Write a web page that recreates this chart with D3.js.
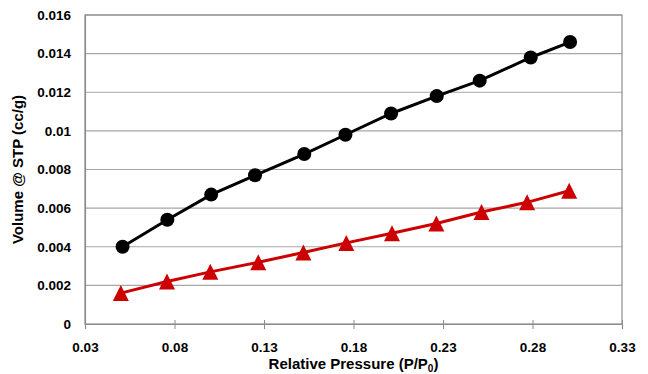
<!DOCTYPE html>
<html>
<head>
<meta charset="utf-8">
<script src="https://d3js.org/d3.v7.min.js"></script>
<style>
body { margin: 0; background: #fff; }
text { font-family: "Liberation Sans", Arial, sans-serif; font-weight: bold; fill: #000; }
</style>
</head>
<body>
<div id="chart"></div>
<script>
var pressure = [0.051, 0.076, 0.1005, 0.125, 0.1525, 0.1755, 0.201, 0.2265, 0.2505, 0.279, 0.301];
var pressureRed = [0.05, 0.0758, 0.1, 0.1268, 0.152, 0.176, 0.2015, 0.2263, 0.2515, 0.277, 0.3005];
var volBlack = [0.004, 0.0054, 0.0067, 0.0077, 0.0088, 0.0098, 0.0109, 0.0118, 0.0126, 0.0138, 0.0146];
var volRed = [0.0016, 0.0022, 0.0027, 0.0032, 0.0037, 0.0042, 0.0047, 0.0052, 0.0058, 0.0063, 0.0069];
var xTicks = [0.03, 0.08, 0.13, 0.18, 0.23, 0.28, 0.33];
var yTicks = [0, 0.002, 0.004, 0.006, 0.008, 0.01, 0.012, 0.014, 0.016];

var margin = {top: 15, right: 26, bottom: 50, left: 85},
width = 648 - margin.left - margin.right,
height = 374 - margin.top - margin.bottom;

var svg = d3.select("#chart")
.append("svg")
.attr("width", 648)
.attr("height", 374)
.append("g")
.attr("transform", "translate(" + margin.left + "," + margin.top + ")");

var x = d3.scaleLinear().domain([0.03, 0.33]).range([0, width]);
var y = d3.scaleLinear().domain([0, 0.016]).range([height, 0]);

// gridlines
svg.selectAll(".grid")
  .data(yTicks.slice(1))
  .enter().append("line")
  .attr("x1", 0).attr("x2", width)
  .attr("y1", function(d) { return y(d); })
  .attr("y2", function(d) { return y(d); })
  .attr("stroke", "#a6a6a6").attr("stroke-width", 1.2);

// frame
svg.append("rect")
  .attr("width", width).attr("height", height)
  .attr("fill", "none").attr("stroke", "#8c8c8c").attr("stroke-width", 1.2);

// x axis
var xAxis = svg.append("g")
  .attr("transform", "translate(0," + height + ")")
  .call(d3.axisBottom(x).tickValues(xTicks).tickSize(5).tickPadding(13)
    .tickFormat(function(d) { return d3.format(".2f")(d); }));
xAxis.select(".domain").attr("stroke", "#8c8c8c").attr("stroke-width", 1.2);
xAxis.selectAll(".tick line").attr("stroke", "#8c8c8c").attr("y1", -4).attr("y2", 5);
xAxis.selectAll("text").style("font-size", "13.5px");

// y axis
var yAxis = svg.append("g")
  .call(d3.axisLeft(y).tickValues(yTicks).tickSize(0).tickPadding(14)
    .tickFormat(function(d) { return d === 0 ? "0" : String(+d.toFixed(3)); }));
yAxis.select(".domain").attr("stroke", "#8c8c8c").attr("stroke-width", 1.2);
yAxis.selectAll("text").style("font-size", "13.5px");

// series
var line = d3.line()
  .x(function(d) { return x(d[0]); })
  .y(function(d) { return y(d[1]); });

var black = d3.zip(pressure, volBlack);
var red = d3.zip(pressureRed, volRed);

svg.append("path").datum(black)
  .attr("d", line).attr("fill", "none")
  .attr("stroke", "#000").attr("stroke-width", 3);
svg.selectAll(".dot")
  .data(black).enter().append("circle")
  .attr("cx", function(d) { return x(d[0]); })
  .attr("cy", function(d) { return y(d[1]); })
  .attr("r", 7).attr("fill", "#000");

svg.append("path").datum(red)
  .attr("d", line).attr("fill", "none")
  .attr("stroke", "#cc0000").attr("stroke-width", 3);
svg.selectAll(".tri")
  .data(red).enter().append("path")
  .attr("d", "M0,-8L8,8L-8,8Z")
  .attr("transform", function(d) { return "translate(" + x(d[0]) + "," + y(d[1]) + ")"; })
  .attr("fill", "#cc0000");

// axis titles
svg.append("text")
  .attr("x", width / 2).attr("y", height + 45)
  .attr("text-anchor", "middle").style("font-size", "15px")
  .html('Relative Pressure (P/P<tspan dy="3" font-size="10px">0</tspan><tspan dy="-3">)</tspan>');

svg.append("text")
  .attr("transform", "translate(" + (-62) + "," + (height / 2) + ") rotate(-90)")
  .attr("text-anchor", "middle").style("font-size", "15px")
  .text("Volume @ STP (cc/g)");
</script>
</body>
</html>
